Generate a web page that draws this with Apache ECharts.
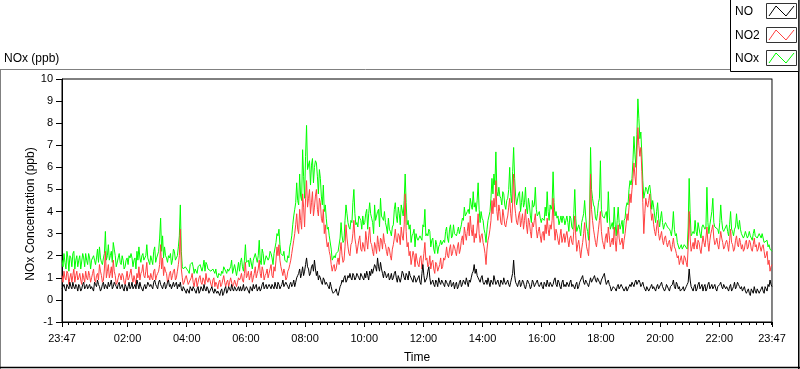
<!DOCTYPE html>
<html><head><meta charset="utf-8">
<script src="https://cdn.jsdelivr.net/npm/echarts@6/dist/echarts.min.js"></script>
<style>html,body{margin:0;padding:0;background:#fff}#c{width:800px;height:369px}</style>
</head><body><div id="c"></div>
<script>
// one value every 2 minutes, from 23:47 (t = 0 min) to 23:47 next day (t = 1440 min); one row per hour
const STEP_MIN = 2;

const NO = [
0.5,0.6,0.7,0.5,0.4,0.7,0.6,0.5,0.8,0.6,0.5,0.8,0.6,0.5,0.7,0.6,0.4,0.7,0.6,0.4,0.5,0.7,0.8,0.5,0.6,0.7,0.5,0.6,0.7,0.5,
0.6,0.5,0.4,0.8,0.7,0.6,0.9,0.7,0.6,0.4,0.5,0.7,0.8,0.5,0.7,0.6,0.5,0.8,0.6,0.7,0.9,0.5,0.6,0.8,0.7,0.6,0.5,0.7,0.8,0.5,
0.6,0.7,0.5,0.4,0.7,0.6,0.4,0.6,0.8,0.5,0.6,0.8,0.5,0.6,0.7,0.5,0.9,0.7,0.5,0.8,0.6,0.5,0.4,0.6,0.7,0.5,0.6,0.8,0.8,0.6,
0.7,0.6,0.5,0.8,0.9,0.7,0.6,0.5,0.8,0.9,0.7,0.6,0.5,0.7,0.8,0.5,0.6,0.8,0.9,0.6,0.7,0.5,0.5,0.8,0.6,0.7,0.8,0.5,0.7,0.6,
0.8,0.5,0.4,0.6,0.6,0.4,0.3,0.5,0.5,0.3,0.6,0.5,0.4,0.6,0.5,0.4,0.3,0.5,0.6,0.3,0.4,0.6,0.5,0.4,0.7,0.5,0.4,0.6,0.5,0.3,
0.4,0.5,0.6,0.4,0.3,0.5,0.5,0.3,0.4,0.3,0.2,0.4,0.5,0.2,0.3,0.5,0.6,0.3,0.4,0.6,0.5,0.4,0.7,0.5,0.4,0.6,0.6,0.4,0.5,0.6,
0.4,0.6,0.4,0.5,0.7,0.4,0.5,0.6,0.6,0.4,0.3,0.6,0.5,0.4,0.7,0.5,0.6,0.7,0.4,0.5,0.6,0.4,0.5,0.7,0.8,0.5,0.6,0.7,0.5,0.6,
0.7,0.6,0.5,0.7,0.6,0.5,0.8,0.6,0.5,0.8,0.7,0.5,0.6,0.7,0.9,0.6,0.6,0.8,0.7,0.6,0.5,0.7,0.8,0.6,0.7,0.9,0.6,0.8,1.0,1.1,
1.2,1.4,1.0,1.2,1.5,1.1,1.3,1.6,1.9,1.5,1.4,1.1,1.2,1.5,1.6,1.3,1.8,1.4,1.1,1.3,0.9,1.1,1.0,0.8,0.7,1.0,0.9,0.7,0.8,0.7,
0.6,0.5,0.8,0.6,0.4,0.3,0.3,0.4,0.5,0.3,0.2,0.4,0.6,0.7,0.9,0.8,1.0,1.1,0.8,0.9,1.1,1.0,1.2,1.0,0.9,1.2,1.1,0.9,1.0,1.2,
1.1,1.0,0.9,1.2,1.2,1.0,0.9,1.2,1.0,1.3,1.1,0.9,1.3,1.1,1.4,1.2,1.2,1.6,1.5,1.3,1.9,1.5,1.3,1.7,1.4,1.2,1.0,1.3,1.2,1.0,
1.1,1.2,0.9,1.0,1.2,0.9,1.0,1.2,1.3,1.0,0.8,1.1,1.1,0.8,1.0,1.3,1.2,1.0,0.9,1.2,1.1,0.9,1.3,1.1,1.0,0.9,0.8,1.1,1.0,0.8,
0.9,1.0,1.1,0.8,0.7,1.2,1.6,1.1,0.8,0.9,1.0,1.3,1.5,1.0,0.7,0.8,0.9,0.7,0.6,0.9,0.8,0.6,1.0,0.8,0.7,0.9,0.9,0.7,0.6,0.9,
0.8,0.7,0.6,0.8,0.9,0.6,0.7,0.8,0.5,0.7,0.8,0.5,0.6,0.8,0.9,0.6,0.7,0.9,0.8,0.7,1.0,0.8,0.6,0.9,0.8,1.0,1.2,1.3,1.6,1.2,
1.4,1.1,1.0,0.9,0.8,1.0,1.1,0.8,0.7,0.8,0.9,0.7,1.0,0.8,0.6,0.9,0.8,0.7,1.1,0.9,0.7,0.8,0.9,0.7,0.6,0.9,0.8,0.7,1.0,0.8,
0.7,0.8,0.9,0.7,0.6,0.8,1.0,1.2,1.8,1.1,0.8,0.7,0.6,0.8,0.9,0.6,0.7,0.9,0.8,0.6,0.5,0.7,0.9,0.8,0.7,0.5,0.6,0.9,0.8,0.6,
0.7,0.8,0.9,0.7,0.6,0.7,0.8,0.6,0.5,0.8,0.7,0.6,0.9,0.7,0.6,0.8,0.8,0.6,0.7,0.9,1.0,0.7,0.6,0.9,0.8,0.6,0.5,0.8,0.9,0.6,
0.7,0.6,0.8,0.7,0.6,0.8,0.9,0.6,0.7,0.6,0.5,0.7,0.8,0.5,0.6,0.8,0.9,1.0,1.1,0.8,0.7,0.9,0.8,0.7,0.6,0.8,1.0,0.8,0.9,1.0,
1.1,0.9,0.8,1.0,1.0,0.8,0.7,0.9,0.9,1.1,1.2,0.9,0.7,0.8,0.9,0.7,0.6,0.4,0.5,0.6,0.6,0.5,0.4,0.6,0.7,0.5,0.5,0.7,0.6,0.5,
0.4,0.5,0.6,0.4,0.5,0.6,0.7,0.6,0.8,0.7,0.6,0.8,0.9,0.7,0.7,0.9,0.8,0.6,0.7,0.8,0.6,0.5,0.4,0.6,0.6,0.4,0.5,0.6,0.7,0.5,
0.6,0.5,0.4,0.6,0.7,0.5,0.5,0.7,0.8,0.6,0.6,0.4,0.5,0.7,0.7,0.5,0.4,0.6,0.6,0.7,0.9,0.6,0.5,0.8,0.7,0.5,0.6,0.4,0.4,0.5,
0.6,0.4,0.5,0.6,0.7,0.8,1.4,0.9,0.6,0.5,0.4,0.6,0.7,0.4,0.5,0.7,0.8,0.5,0.6,0.7,0.4,0.6,0.7,0.4,0.5,0.7,0.8,0.5,0.6,0.7,
0.5,0.6,0.7,0.5,0.4,0.6,0.6,0.7,0.8,0.6,0.5,0.7,0.7,0.5,0.6,0.5,0.4,0.6,0.7,0.4,0.5,0.6,0.8,0.5,0.6,0.8,0.7,0.6,0.5,0.6,
0.4,0.5,0.6,0.4,0.3,0.4,0.5,0.3,0.2,0.5,0.4,0.3,0.6,0.4,0.3,0.5,0.5,0.3,0.4,0.5,0.6,0.4,0.3,0.6,0.5,0.4,0.7,0.6,0.9,0.7,
0.6];

const NO2 = [
1.1,0.8,1.3,1.0,0.9,1.3,1.2,0.7,1.0,1.2,0.8,1.1,1.4,0.8,1.1,1.3,0.9,1.0,1.2,0.9,0.7,1.2,1.0,0.8,1.3,1.0,0.9,1.3,1.1,0.8,
1.0,1.2,1.4,0.9,0.8,1.1,1.2,0.9,1.6,1.3,1.1,0.8,0.9,1.4,2.2,1.0,1.3,1.6,1.0,1.2,1.5,1.0,1.8,1.3,1.1,0.7,0.8,1.0,1.2,1.1,
0.9,1.2,1.1,0.8,0.7,1.0,1.3,0.9,1.0,1.2,1.4,1.0,0.8,1.1,1.1,0.7,1.2,1.0,1.5,0.9,1.2,1.3,1.6,1.1,1.0,1.3,1.7,1.0,1.1,0.9,
1.2,1.0,0.9,1.3,1.4,0.9,1.1,1.2,1.3,1.6,2.5,1.4,1.9,1.1,1.5,1.3,1.2,0.8,0.9,1.2,1.3,0.9,1.1,1.3,1.4,0.9,1.0,1.3,1.6,2.0,
3.2,1.4,1.0,0.7,0.8,1.0,1.1,0.9,0.7,0.8,0.9,1.0,1.2,0.8,0.6,0.9,1.0,0.6,0.8,1.0,1.1,0.8,0.7,1.0,0.9,0.7,1.2,0.9,0.8,1.0,
0.9,0.7,0.6,0.9,1.0,0.6,0.8,0.7,0.5,0.8,0.9,0.6,0.7,0.9,1.1,0.8,0.6,0.8,0.9,0.6,0.8,1.0,1.0,0.6,0.7,0.9,0.9,0.6,0.8,1.0,
0.9,1.0,1.2,0.9,0.8,1.2,1.7,1.0,1.1,1.3,0.9,1.1,1.3,0.8,1.0,1.2,1.5,1.0,1.2,1.4,1.8,1.2,1.0,1.5,1.3,0.9,1.1,1.2,1.4,1.0,
1.2,1.4,1.6,1.1,1.0,1.5,1.3,1.8,2.4,2.0,2.5,1.8,1.5,1.3,1.1,1.4,1.2,0.9,1.0,1.3,1.4,1.6,1.8,2.1,2.4,2.7,3.0,3.4,3.9,3.2,
3.0,4.1,3.6,3.2,4.8,4.2,3.3,4.6,5.4,4.2,4.6,5.0,3.9,4.4,4.9,3.8,4.2,4.7,5.0,4.1,3.8,4.6,4.4,3.7,3.5,4.1,3.0,3.4,2.8,2.4,
2.6,2.2,2.0,1.6,1.3,1.5,1.6,1.3,1.4,1.7,1.9,1.6,2.2,2.6,2.0,1.7,1.8,2.4,3.4,2.8,2.4,2.1,2.0,2.5,2.6,3.0,3.6,2.8,2.5,2.1,
2.4,2.7,2.9,2.3,2.2,2.6,2.6,2.2,3.1,2.7,2.3,2.9,3.3,2.6,2.5,2.2,2.0,2.6,2.4,2.1,2.9,2.5,2.2,2.8,2.7,2.3,3.0,2.6,2.5,2.2,
2.0,2.4,2.3,2.0,1.8,2.3,2.5,2.8,3.2,2.7,2.6,3.0,2.9,2.5,3.3,2.9,2.7,3.4,4.8,3.1,2.4,2.6,2.0,2.2,1.6,1.9,2.2,2.0,1.5,2.1,
1.8,1.6,1.5,1.9,2.0,1.4,1.7,2.1,2.6,1.8,1.9,1.5,1.6,2.0,1.4,1.7,1.8,1.4,1.2,1.7,1.6,1.3,1.3,1.6,1.9,1.4,1.5,1.9,1.8,2.0,
2.4,2.0,1.9,2.3,2.5,2.0,2.1,2.5,2.4,2.2,2.0,2.4,2.6,2.1,2.3,2.7,2.9,2.5,3.3,3.0,2.7,3.1,3.5,2.9,3.8,3.2,2.9,3.4,2.6,3.0,
2.8,3.3,3.9,3.0,2.6,2.9,3.0,2.6,2.4,2.1,1.6,2.3,2.7,2.9,3.2,3.6,4.5,3.9,4.6,4.2,5.4,4.0,3.6,4.3,4.0,3.5,3.4,4.1,3.8,3.4,
3.3,3.6,3.8,4.2,4.6,3.9,3.5,4.4,5.7,4.3,3.9,3.5,3.4,3.8,4.0,3.3,3.6,3.9,3.2,3.6,4.1,3.4,3.0,3.7,3.5,3.1,2.8,3.5,3.3,3.6,
3.9,3.2,2.8,3.1,3.3,2.9,2.6,3.0,3.1,2.7,3.4,3.0,3.7,3.2,2.9,3.4,3.2,3.6,4.6,3.3,2.7,3.2,3.0,2.7,2.5,2.9,3.2,2.6,2.8,3.0,
2.6,2.9,3.1,2.7,2.4,2.8,2.9,2.6,2.5,3.1,3.8,2.9,2.2,2.5,2.7,2.3,1.9,2.3,2.6,3.0,3.5,2.8,2.4,2.2,2.0,2.9,5.7,4.1,3.6,3.2,
2.9,2.6,2.4,2.8,3.2,3.6,4.0,3.1,2.7,2.5,2.3,2.8,3.0,2.6,3.3,2.9,2.4,2.6,2.8,2.5,3.3,2.7,2.2,2.9,3.4,2.8,2.5,2.6,2.8,2.3,
2.7,3.0,3.4,3.9,3.6,4.2,4.8,4.4,5.0,5.5,6.2,5.6,5.2,6.6,7.8,7.0,6.5,6.9,5.8,4.4,3.0,3.9,4.6,4.3,4.2,4.5,4.8,4.1,3.6,3.9,
3.4,3.1,2.9,3.3,3.6,3.0,2.7,2.9,3.1,2.7,2.5,2.8,2.9,2.6,2.4,2.6,2.7,2.4,2.2,2.5,2.8,2.4,2.3,2.1,1.9,2.0,1.6,1.8,2.0,1.7,
1.6,2.0,1.9,1.7,1.5,2.4,4.0,2.8,2.2,2.4,2.6,2.3,2.8,2.5,2.3,2.7,2.6,2.3,2.1,2.5,2.9,2.6,2.4,2.8,3.3,2.6,2.2,2.7,3.0,3.2,
3.4,2.8,2.5,2.6,2.8,2.5,2.3,2.7,3.1,2.8,2.6,2.3,2.4,2.6,2.7,2.5,2.2,2.7,3.2,2.6,2.5,2.2,2.3,2.7,2.9,2.5,2.4,2.8,2.6,2.3,
2.5,2.2,2.3,2.6,2.7,2.3,2.4,2.7,2.6,2.3,2.2,2.5,2.8,2.4,2.5,2.2,2.3,2.6,2.6,2.2,2.4,2.5,2.2,1.9,2.0,2.2,1.6,1.8,1.3,1.5,
1.6];

const NOX = [
1.8,1.5,2.1,1.7,1.4,2.2,1.9,1.3,2.0,1.9,1.5,2.1,2.2,1.4,1.8,2.0,1.5,1.8,2.0,1.4,1.4,2.1,1.9,1.5,2.1,1.8,1.6,2.1,1.9,1.4,
1.8,1.9,2.0,1.8,1.6,1.9,2.3,1.7,2.4,1.9,1.7,1.6,1.9,2.1,3.1,1.8,2.0,2.5,1.8,2.0,2.2,1.7,2.6,2.3,2.0,1.5,1.5,1.9,2.1,1.7,
1.6,2.0,1.8,1.4,1.5,1.8,1.9,1.6,2.0,1.9,2.1,1.9,1.5,1.8,1.9,1.4,2.2,1.8,2.4,1.9,1.7,2.0,2.1,1.8,1.8,2.0,2.5,1.9,1.9,1.6,
2.0,1.8,1.6,2.2,2.4,1.7,1.9,1.9,2.2,2.8,3.7,2.2,2.9,1.9,2.4,2.0,1.9,1.7,2.0,1.9,2.1,1.6,1.8,2.3,2.2,1.8,1.9,2.0,2.4,2.9,
4.3,2.2,1.5,1.4,1.4,1.5,1.5,1.5,1.3,1.2,1.6,1.6,1.7,1.5,1.2,1.4,1.4,1.2,1.5,1.5,1.6,1.6,1.3,1.5,1.8,1.3,1.7,1.6,1.4,1.4,
1.4,1.3,1.3,1.4,1.4,1.2,1.4,1.1,1.0,1.2,1.2,1.1,1.3,1.2,1.5,1.4,1.3,1.2,1.4,1.3,1.4,1.5,1.8,1.2,1.2,1.6,1.6,1.1,1.4,1.7,
1.3,1.7,1.9,1.5,1.3,1.8,2.5,1.7,1.7,1.8,1.5,1.9,1.9,1.4,1.8,1.8,2.1,1.9,1.7,2.0,2.7,1.8,1.6,2.3,2.1,1.6,1.8,2.0,2.0,1.8,
1.9,2.2,2.1,1.9,1.6,2.1,2.1,2.6,3.0,2.9,3.2,2.5,2.1,2.1,2.0,2.2,1.8,1.8,1.7,2.0,1.9,2.4,2.6,2.9,3.4,3.8,4.1,4.4,5.3,4.5,
4.3,5.7,4.7,4.5,6.8,5.6,4.6,6.5,7.9,5.9,6.1,6.3,5.2,6.1,6.4,5.3,6.0,6.3,6.2,5.6,4.8,5.9,5.5,4.7,4.3,5.2,4.0,4.3,3.7,3.2,
3.3,2.9,2.9,2.3,1.8,1.9,2.0,1.9,2.1,2.1,2.2,2.2,2.8,3.5,2.9,2.6,2.7,3.6,4.3,3.9,3.5,3.3,3.2,3.6,3.5,4.4,5.0,3.9,3.4,3.5,
3.3,3.8,3.7,3.6,3.2,3.8,3.4,3.5,3.9,4.1,3.2,3.9,4.4,3.9,3.7,3.5,3.0,4.3,3.6,3.6,4.0,4.1,3.3,4.6,3.8,3.7,3.6,4.0,3.5,3.3,
3.0,3.7,3.2,3.1,2.9,3.3,3.4,4.1,4.4,3.8,3.5,4.2,3.9,3.4,4.3,4.3,3.8,4.5,5.7,4.4,3.4,3.6,3.2,3.4,2.6,2.9,3.0,3.2,2.4,3.0,
2.8,2.7,2.7,2.9,2.9,2.7,3.4,3.3,4.1,2.9,3.0,2.9,3.2,3.1,2.4,2.7,2.8,2.3,2.1,2.7,2.5,2.1,2.4,2.5,2.7,2.5,2.5,2.7,2.6,3.1,
3.3,2.8,2.6,3.2,3.4,2.8,2.9,3.4,3.0,3.0,2.9,3.1,3.3,3.0,3.2,3.4,3.7,3.6,4.2,3.8,3.8,4.0,4.1,3.9,4.6,4.3,4.1,4.9,4.2,4.4,
4.0,4.5,5.3,4.1,3.5,4.0,3.7,3.6,3.2,3.0,2.6,3.2,3.6,3.8,4.0,4.6,5.5,4.8,5.7,5.2,6.7,4.9,4.7,5.1,4.7,4.6,4.3,4.9,4.8,4.3,
4.1,4.5,4.6,5.0,6.0,4.8,4.4,5.8,6.9,5.5,4.7,4.3,4.3,4.8,4.9,4.0,4.4,4.9,4.2,4.4,5.1,4.2,3.9,4.6,4.3,3.8,3.5,4.5,4.2,4.3,
5.1,4.1,3.8,3.9,4.0,3.7,3.5,3.7,3.7,3.6,4.2,3.8,4.9,4.0,3.6,4.3,4.1,4.3,5.8,4.4,3.8,4.0,3.7,3.8,3.4,3.6,3.8,3.5,3.8,3.7,
3.4,3.6,3.8,3.5,3.1,3.8,3.7,3.3,3.2,3.9,5.0,3.7,3.1,3.1,3.4,3.2,2.9,3.5,3.7,3.9,4.5,3.8,3.3,3.1,2.7,3.8,6.9,5.0,4.6,4.3,
4.2,3.7,3.6,3.9,4.4,4.6,6.3,4.1,3.8,3.8,3.7,3.9,4.0,3.5,4.9,3.8,3.2,3.2,3.5,3.2,4.2,3.4,2.9,3.6,4.2,3.5,3.2,3.4,3.6,3.0,
3.6,3.7,4.2,4.4,4.3,5.0,5.4,5.2,5.5,6.3,7.4,6.6,6.0,7.5,9.1,8.2,7.3,7.6,6.6,5.4,4.6,4.6,5.1,5.0,4.8,5.1,5.2,4.8,4.1,4.5,
4.2,3.8,3.5,4.0,4.4,3.7,3.3,3.7,4.0,3.5,3.2,3.4,3.5,3.4,3.3,3.3,3.2,3.1,2.9,3.3,4.0,3.2,2.9,3.0,2.6,2.6,2.3,2.4,2.5,2.3,
2.3,2.5,2.5,2.5,2.3,3.3,5.5,3.9,2.9,3.0,3.1,3.0,3.6,3.1,2.9,3.5,3.5,3.0,2.8,3.3,3.4,3.4,3.2,3.3,5.1,3.5,3.0,3.4,3.7,4.0,
4.6,3.5,3.3,3.3,3.3,3.2,3.0,3.5,4.3,3.6,3.2,3.1,3.2,3.3,3.4,3.1,2.9,3.4,4.0,3.2,3.1,2.9,3.2,3.3,3.9,3.4,3.2,3.6,3.2,3.0,
3.0,2.8,2.9,3.1,3.1,2.8,2.9,3.1,2.9,2.9,2.7,3.0,3.2,2.9,2.9,2.8,2.8,3.0,3.0,2.8,3.0,3.0,2.6,2.6,2.6,2.7,2.4,2.5,2.3,2.3,
2.2];

// x axis: minutes after 23:47
const TICK_POS = [0,133,253,373,493,613,733,853,973,1093,1213,1333,1440];
const TICK_LABELS = ['23:47','02:00','04:00','06:00','08:00','10:00','12:00','14:00','16:00','18:00','20:00','22:00','23:47'];
const MINOR_POS = [];
for (let m = 13; m < 1440; m += 15) MINOR_POS.push(m);

const Y_MIN = -1, Y_MAX = 10;

function pairs(arr){ return arr.map((v,i)=>[i*STEP_MIN, v]); }

const FONT = 'Liberation Sans';
const chart = echarts.init(document.getElementById('c'), null, {renderer:'canvas'});

const xBase = {type:'value', min:0, max:1440, gridIndex:0, position:'bottom', splitLine:{show:false}};

chart.setOption({
  animation:false,
  backgroundColor:'#fff',
  grid:{left:62, right:28, top:79, bottom:40, show:true, borderColor:'#000', borderWidth:1, backgroundColor:'#fff'},
  xAxis:[
    Object.assign({}, xBase, {
      name:'Time', nameLocation:'middle', nameGap:30,
      nameTextStyle:{fontFamily:FONT, fontSize:12, color:'#000'},
      axisLine:{show:true, onZero:false, lineStyle:{color:'#000', width:1}},
      axisTick:{show:true, length:5, customValues:TICK_POS, lineStyle:{color:'#000'}},
      axisLabel:{show:true, customValues:TICK_POS, margin:11, fontFamily:FONT, fontSize:11, color:'#000',
        formatter:function(v){ const k = TICK_POS.indexOf(Math.round(v)); return k>=0 ? TICK_LABELS[k] : ''; }}
    }),
    Object.assign({}, xBase, {
      axisLine:{show:false, onZero:false},
      axisTick:{show:true, length:3, customValues:MINOR_POS, lineStyle:{color:'#000'}},
      axisLabel:{show:false}
    })
  ],
  yAxis:[
    {type:'value', min:Y_MIN, max:Y_MAX, interval:1, position:'left',
     splitLine:{show:false},
     axisLine:{show:true, onZero:false, lineStyle:{color:'#000', width:1}},
     axisTick:{show:true, length:6, lineStyle:{color:'#000'}},
     axisLabel:{margin:9, fontFamily:FONT, fontSize:11, color:'#000'}},
    {type:'value', min:Y_MIN, max:Y_MAX, interval:1, position:'right',
     splitLine:{show:false},
     axisLine:{show:true, onZero:false, lineStyle:{color:'#888', width:1}},
     axisTick:{show:false}, axisLabel:{show:false}}
  ],
  series:[
    {name:'NOx', type:'line', data:pairs(NOX), showSymbol:false, symbol:'none',
     lineStyle:{color:'#00ff00', width:1}, itemStyle:{color:'#00ff00'}},
    {name:'NO2', type:'line', data:pairs(NO2), showSymbol:false, symbol:'none',
     lineStyle:{color:'#ff4040', width:1}, itemStyle:{color:'#ff4040'}},
    {name:'NO', type:'line', data:pairs(NO), showSymbol:false, symbol:'none',
     lineStyle:{color:'#000000', width:1}, itemStyle:{color:'#000'}}
  ],
  graphic:[
    {type:'line', shape:{x1:0, y1:69.5, x2:731, y2:69.5}, style:{stroke:'#808080', lineWidth:1}},
    {type:'line', shape:{x1:0.5, y1:69, x2:0.5, y2:369}, style:{stroke:'#808080', lineWidth:1}},
    {type:'line', shape:{x1:0, y1:367.5, x2:800, y2:367.5}, style:{stroke:'#000', lineWidth:1.5}},
    {type:'line', shape:{x1:798.75, y1:0, x2:798.75, y2:369}, style:{stroke:'#000', lineWidth:1.5}},
    {type:'rect', shape:{x:730.5, y:-1, width:68.25, height:72.5}, style:{fill:'#fff', stroke:'#000', lineWidth:1}},
    {type:'text', left:735, top:6, style:{text:'NO', font:'12px "Liberation Sans"', fill:'#000'}},
    {type:'text', left:735, top:29.5, style:{text:'NO2', font:'12px "Liberation Sans"', fill:'#000'}},
    {type:'text', left:735, top:53, style:{text:'NOx', font:'12px "Liberation Sans"', fill:'#000'}},
    {type:'rect', shape:{x:766.5, y:3.5, width:30, height:15}, style:{fill:'#fff', stroke:'#333', lineWidth:1}},
    {type:'rect', shape:{x:766.5, y:27.5, width:30, height:15}, style:{fill:'#fff', stroke:'#333', lineWidth:1}},
    {type:'rect', shape:{x:766.5, y:50.5, width:30, height:15}, style:{fill:'#fff', stroke:'#333', lineWidth:1}},
    {type:'polyline', shape:{points:[[769,16],[776,6],[786,16],[794,6]]}, style:{stroke:'#000', fill:null, lineWidth:1}},
    {type:'polyline', shape:{points:[[769,40],[776,30],[786,40],[794,30]]}, style:{stroke:'#ff4040', fill:null, lineWidth:1}},
    {type:'polyline', shape:{points:[[769,63],[776,53],[786,63],[794,53]]}, style:{stroke:'#00ff00', fill:null, lineWidth:1}},
    {type:'text', left:4, top:53, style:{text:'NOx (ppb)', font:'12px "Liberation Sans"', fill:'#000'}},
    {type:'text', x:31, y:214, rotation:Math.PI/2,
     style:{text:'NOx Concentration (ppb)', font:'12px "Liberation Sans"', fill:'#000', align:'center', verticalAlign:'middle'}}
  ]
});
</script></body></html>
